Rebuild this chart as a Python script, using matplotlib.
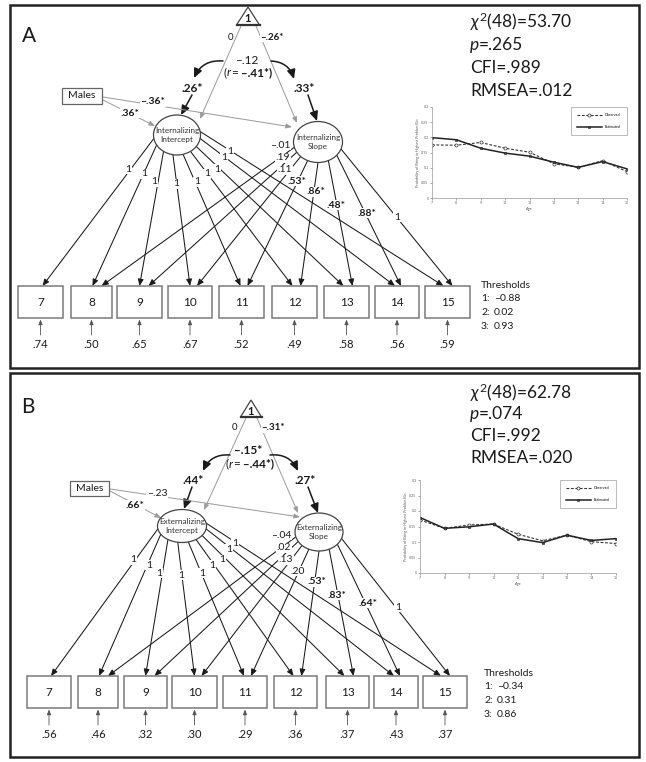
import numpy as np
import matplotlib
matplotlib.use("Agg")
import matplotlib.pyplot as plt
from matplotlib.patches import Rectangle, Ellipse, Polygon, FancyArrowPatch

plt.rcParams['font.family'] = ['Lato', 'DejaVu Sans']
plt.rcParams['mathtext.fontset'] = 'custom'
plt.rcParams['mathtext.rm'] = 'Lato'
plt.rcParams['mathtext.it'] = 'Lato:italic'
plt.rcParams['mathtext.bf'] = 'Lato:bold'

# ------------------------------------------------------------------ data
waves = ["7", "8", "9", "10", "11", "12", "13", "14", "15"]
ages = [7, 8, 9, 10, 11, 12, 13, 14, 15]
intercept_loadings = ["1", "1", "1", "1", "1", "1", "1", "1", "1"]

# Panel A (internalizing)
latent_A = "Internalizing"
slope_loadings_A = ["–.01", ".19", ".11", ".53*", ".86*", ".48*", ".88*", "1"]
residuals_A = [".74", ".50", ".65", ".67", ".52", ".49", ".58", ".56", ".59"]
thresholds_A = ["–0.88", "0.02", "0.93"]
means_A = ["0", "–.26*"]
cov_A = "–.12"
r_A = "–.41*"
variances_A = [".26*", ".33*"]
males_A = [".36*", "–.36*"]
fit_A = ["53.70", ".265", ".989", ".012"]
observed_A = [0.175, 0.174, 0.183, 0.164, 0.151, 0.113, 0.101, 0.123, 0.087]
estimated_A = [0.199, 0.192, 0.164, 0.148, 0.138, 0.118, 0.101, 0.120, 0.096]

# Panel B (externalizing)
latent_B = "Externalizing"
slope_loadings_B = ["–.04", ".02", ".13", ".20", ".53*", ".83*", ".64*", "1"]
residuals_B = [".56", ".46", ".32", ".30", ".29", ".36", ".37", ".43", ".37"]
thresholds_B = ["–0.34", "0.31", "0.86"]
means_B = ["0", "–.31*"]
cov_B = "–.15*"
r_B = "–.44*"
variances_B = [".44*", ".27*"]
males_B = [".66*", "–.23"]
fit_B = ["62.78", ".074", ".992", ".020"]
observed_B = [0.171, 0.144, 0.155, 0.158, 0.125, 0.104, 0.122, 0.101, 0.095]
estimated_B = [0.179, 0.144, 0.149, 0.158, 0.111, 0.098, 0.122, 0.105, 0.111]

df_chi = "48"

# ------------------------------------------------------------------ layout (pixels)
W, H = 646, 762
int_angles = [190, 210, 235, 260, 285, 305, 325, 350, 370]
slope_angles = [195, 210, 225, 245, 270, 295, 320, 340]
int_lab_off = [(-49, 34), (-33, 39), (-23, 47), (-1, 49), (20, 47), (30, 39), (40, 34), (47, 23), (53, 17)]
slope_lab_off = [(-38, 3), (-35, 16), (-33, 28), (-21, 39), (-2, 50), (18, 63), (49, 71), (79, 75)]
int_end_off = [2, 1, 0, 0, -1, -2, -3, -2, -4]
slope_end_off = [10, 9, 7, 6, 6, 6, 4, 5]

layout_A = dict(
    frame=(10, 5, 639, 368), letter="A", letter_xy=(29, 36),
    apex=(248, 7), base_y=25, tri_half=11.5,
    mean_lab=[(231, 37), (272, 37)],
    tri_lines=[((241, 26), (200, 119)), ((256, 26), (297, 123))],
    cov_xy=(248, 60), r_xy=(248, 73),
    curves=[((223, 61), (194, 78)), ((271, 61), (294, 79))],
    var_lab=[(192, 88), (304, 88)],
    var_arr=[((192, 95), (181, 115)), ((308, 95), (317, 121))],
    males=(62, 88, 102, 104),
    males_arr=[((103, 100), (155, 126)), ((103, 97), (292, 127))],
    males_lab=[(130, 113), (153, 102)],
    ic=(177, 135), iw=47, ih=40, sc=(318, 142), sw=49, sh=41,
    box_cx=[40.5, 91.5, 139.5, 190, 241.5, 294.5, 346.5, 397, 447.5],
    box_w=[45, 41, 45, 44, 45, 45, 45, 44, 45], box_top=286, box_bot=318,
    err_y0=335, err_lab_y=345,
    thr_xy=(481, 285), stats_xy=(470, [22, 45, 68, 91]),
    inset=(432, 107, 627, 198),
)
layout_B = dict(
    frame=(10, 373, 639, 757), letter="B", letter_xy=(28, 407),
    apex=(251, 400), base_y=417, tri_half=10.5,
    mean_lab=[(235, 428), (273, 428)],
    tri_lines=[((246, 418), (204, 510)), ((257, 418), (298, 513))],
    cov_xy=(248, 451), r_xy=(250, 464),
    curves=[((230, 455), (203, 471)), ((270, 455), (298, 471))],
    var_lab=[(193, 480), (305, 480)],
    var_arr=[((192, 487), (184, 509)), ((308, 487), (318, 513))],
    males=(70, 481, 109, 496),
    males_arr=[((110, 491), (161, 518)), ((110, 489), (300, 517))],
    males_lab=[(135, 505), (157, 493)],
    ic=(182, 526), iw=49, ih=33, sc=(319, 532), sw=48, sh=38,
    box_cx=[49, 98, 145.5, 194.5, 245, 295.5, 347.5, 396, 445],
    box_w=[44, 40, 43, 45, 44, 43, 43, 44, 44], box_top=676, box_bot=708,
    err_y0=725, err_lab_y=735,
    thr_xy=(484, 673), stats_xy=(470, [393, 414, 436, 458]),
    inset=(420, 480, 616, 573),
)

fig = plt.figure(figsize=(W / 100, H / 100), dpi=100)
ax = fig.add_axes([0, 0, 1, 1])
ax.set_xlim(0, W)
ax.set_ylim(H, 0)
ax.axis('off')
renderer = fig.canvas.get_renderer()

DARK = '#1a1a1a'
GRAY = '#9a9a9a'


def arrow(p0, p1, color=DARK, lw=0.8, rad=0.0, hl=0.4, hw=0.17, ms=10, z=3):
    a = FancyArrowPatch(p0, p1, arrowstyle=f'-|>,head_length={hl},head_width={hw}',
                        mutation_scale=ms, connectionstyle=f'arc3,rad={rad}',
                        color=color, lw=lw, shrinkA=0, shrinkB=0, zorder=z)
    ax.add_patch(a)


def txt(x, y, s, size=8, weight='normal', bg=False, ha='center', color=DARK, style='normal', z=6):
    kw = {}
    if bg:
        kw['bbox'] = dict(boxstyle='square,pad=0.05', fc='white', ec='none')
    return ax.text(x, y, s, fontsize=size, fontweight=weight, ha=ha, va='center', color=color,
                   style=style, zorder=z, **kw)


def rich(x, y, pieces, size, ha='center'):
    """pieces: list of (string, weight, style); laid out left to right."""
    ts, ws = [], []
    for s, wt, st in pieces:
        t = ax.text(0, y, s, fontsize=size, fontweight=wt, style=st, ha='left', va='center',
                    color=DARK, zorder=6)
        ts.append(t)
        ws.append(t.get_window_extent(renderer).width)
    total = sum(ws)
    cur = x - total / 2 if ha == 'center' else x
    for t, w in zip(ts, ws):
        t.set_x(cur)
        cur += w


def ell_pt(c, w, h, ang):
    t = np.deg2rad(ang)
    return (c[0] + w / 2 * np.cos(t), c[1] - h / 2 * np.sin(t))


def is_sig(s):
    return '*' in s


def draw_panel(L, latent, slope_loads, resid, thr, means, cov, r, variances, males_eff,
               fit, obs, est):
    x0, y0, x1, y1 = L['frame']
    ax.add_patch(Rectangle((x0, y0), x1 - x0, y1 - y0, fill=False, ec='#222222', lw=1.8, zorder=1))
    txt(L['letter_xy'][0], L['letter_xy'][1], L['letter'], size=15)

    # triangle (constant)
    ax_, ay_ = L['apex']
    by, hw = L['base_y'], L['tri_half']
    ax.add_patch(Polygon([(ax_, ay_), (ax_ - hw, by), (ax_ + hw, by)], closed=True,
                         fc='white', ec='#444444', lw=0.9, zorder=4))
    ax.plot([ax_ - hw, ax_ + hw], [by, by], color='#333333', lw=1.6, zorder=5)
    txt(ax_, (ay_ + by) / 2 + 3, "1", size=8, weight='bold')
    for (p0, p1) in L['tri_lines']:
        arrow(p0, p1, color=GRAY, lw=0.7, hl=0.35, hw=0.14)
    txt(*L['mean_lab'][0], means[0], size=7, bg=True)
    txt(*L['mean_lab'][1], means[1], size=7, weight='bold' if is_sig(means[1]) else 'normal', bg=True)

    # covariance / variances
    txt(*L['cov_xy'], cov, size=8.5, weight='bold' if is_sig(cov) else 'normal')
    rich(L['r_xy'][0], L['r_xy'][1],
         [("(", 'normal', 'normal'), ("r", 'normal', 'italic'), ("=", 'normal', 'normal'),
          (" " + r + ")", 'bold', 'normal')], 8.5)
    (c0, c1), (c2, c3) = L['curves']
    arrow(c0, c1, lw=1.1, rad=0.35, hl=0.55, hw=0.25)
    arrow(c2, c3, lw=1.1, rad=-0.35, hl=0.55, hw=0.25)
    for (pos, v) in zip(L['var_lab'], variances):
        txt(*pos, v, size=8.5, weight='bold' if is_sig(v) else 'normal')
    for (p0, p1) in L['var_arr']:
        arrow(p0, p1, lw=1.1, hl=0.55, hw=0.25)

    # males
    mx0, my0, mx1, my1 = L['males']
    ax.add_patch(Rectangle((mx0, my0), mx1 - mx0, my1 - my0, fc='white', ec='#666666', lw=0.9, zorder=4))
    txt((mx0 + mx1) / 2, (my0 + my1) / 2, "Males", size=7.5)
    for (p0, p1) in L['males_arr']:
        arrow(p0, p1, color=GRAY, lw=0.7, hl=0.35, hw=0.14)
    for (pos, v) in zip(L['males_lab'], males_eff):
        txt(*pos, v, size=7.5, weight='bold' if is_sig(v) else 'normal', bg=True)

    # latent factors
    ic, sc = L['ic'], L['sc']
    ax.add_patch(Ellipse(ic, L['iw'], L['ih'], fc='white', ec='#444444', lw=0.9, zorder=4))
    ax.add_patch(Ellipse(sc, L['sw'], L['sh'], fc='white', ec='#444444', lw=0.9, zorder=4))
    txt(ic[0], ic[1], latent + "\nIntercept", size=5.9, color='#333333', z=7)
    txt(sc[0], sc[1], latent + "\nSlope", size=5.9, color='#333333', z=7)

    # observed indicators
    top, bot = L['box_top'], L['box_bot']
    for i, w in enumerate(waves):
        cx, bw = L['box_cx'][i], L['box_w'][i]
        ax.add_patch(Rectangle((cx - bw / 2, top), bw, bot - top, fc='white', ec='#7a7a7a', lw=1.1, zorder=4))
        txt(cx, (top + bot) / 2, w, size=8.5)
        arrow((cx, L['err_y0']), (cx, bot + 1.5), color='#555555', lw=0.6, hl=0.3, hw=0.12)
        txt(cx, L['err_lab_y'], resid[i], size=8)

    # intercept loadings
    for i, lab in enumerate(intercept_loadings):
        p0 = ell_pt(ic, L['iw'], L['ih'], int_angles[i])
        p1 = (L['box_cx'][i] + int_end_off[i], top)
        arrow(p0, p1, lw=0.75)
        ox, oy = int_lab_off[i]
        txt(ic[0] + ox, ic[1] + oy, lab, size=7.5, bg=True)
    # slope loadings
    for j, lab in enumerate(slope_loads):
        i = j + 1
        p0 = ell_pt(sc, L['sw'], L['sh'], slope_angles[j])
        p1 = (L['box_cx'][i] + slope_end_off[j], top)
        arrow(p0, p1, lw=0.75)
        ox, oy = slope_lab_off[j]
        txt(sc[0] + ox, sc[1] + oy, lab, size=7.5, weight='bold' if is_sig(lab) else 'normal', bg=True)

    # thresholds
    tx, ty = L['thr_xy']
    txt(tx, ty, "Thresholds", size=7.5, ha='left')
    for k, t in enumerate(thr):
        txt(tx, ty + 13.7 * (k + 1), f"{k + 1}:", size=7.5, ha='left')
        txt(tx + 13, ty + 13.7 * (k + 1), t, size=7.5, ha='left')

    # fit statistics
    sx, sys_ = L['stats_xy']
    txt(sx, sys_[0], r"$\chi^2$(" + df_chi + ")=" + fit[0], size=12.5, ha='left')
    rich(sx, sys_[1], [("p", 'normal', 'italic'), ("=" + fit[1], 'normal', 'normal')], 12.5, ha='left')
    txt(sx, sys_[2], "CFI=" + fit[2], size=12.5, ha='left')
    txt(sx, sys_[3], "RMSEA=" + fit[3], size=12.5, ha='left')

    # inset trajectory plot
    ix0, iy0, ix1, iy1 = L['inset']
    ia = fig.add_axes([ix0 / W, 1 - iy1 / H, (ix1 - ix0) / W, (iy1 - iy0) / H])
    ia.plot(ages, obs, ls=(0, (2.5, 1.5)), color='#333333', lw=0.8, marker='o', ms=2.2,
            mfc='white', mec='#333333', mew=0.5, label='Observed')
    ia.plot(ages, est, ls='-', color='#222222', lw=1.1, marker='s', ms=2.0,
            mfc='#444444', mec='#222222', mew=0.4, label='Estimated')
    ia.set_xlim(ages[0], ages[-1])
    ia.set_ylim(0, 0.3)
    ia.set_yticks([0, 0.05, 0.1, 0.15, 0.2, 0.25, 0.3])
    ia.set_yticklabels(['0', '0.05', '0.1', '0.15', '0.2', '0.25', '0.3'])
    ia.set_xticks(ages)
    ia.tick_params(labelsize=2.6, length=1.5, width=0.4, pad=1, colors='#666666')
    for sp in ia.spines.values():
        sp.set_color('#999999')
        sp.set_linewidth(0.5)
    ia.spines['top'].set_visible(False)
    ia.spines['right'].set_visible(False)
    ia.set_xlabel("Age", fontsize=2.8, labelpad=1, color='#555555')
    ia.set_ylabel("Probability of Being in Highest Problem Bin", fontsize=2.6, labelpad=1, color='#555555')
    leg = ia.legend(loc='upper right', fontsize=2.6, frameon=True, fancybox=False,
                    handlelength=7, labelspacing=2.2, borderpad=1.6, borderaxespad=0.1)
    leg.get_frame().set_edgecolor('#888888')
    leg.get_frame().set_linewidth(0.5)


draw_panel(layout_A, latent_A, slope_loadings_A, residuals_A, thresholds_A, means_A, cov_A, r_A,
           variances_A, males_A, fit_A, observed_A, estimated_A)
draw_panel(layout_B, latent_B, slope_loadings_B, residuals_B, thresholds_B, means_B, cov_B, r_B,
           variances_B, males_B, fit_B, observed_B, estimated_B)

fig.savefig("out.png", dpi=100)
